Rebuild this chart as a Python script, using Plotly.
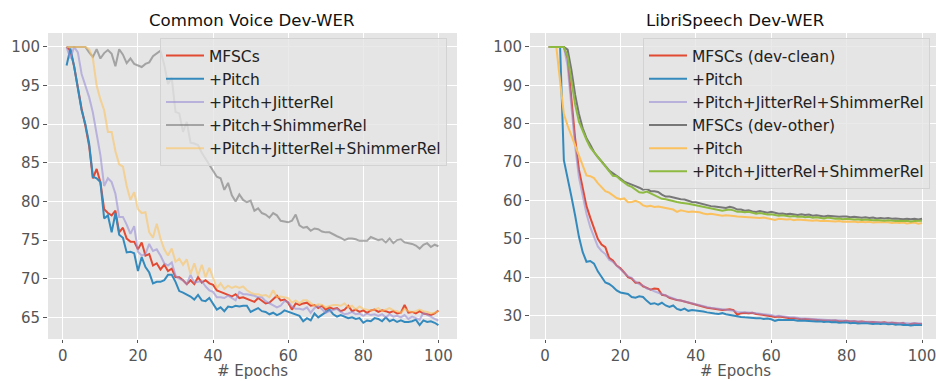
import plotly.graph_objects as go

# ---- data: word error rate per training epoch ----
epochs = list(range(1, 101))

cv_mfsc = [100, 99.5, 97.5, 94.5, 92, 89.8, 87.2, 83, 84.2, 82.5,
           79, 78.5, 78.2, 78.8, 76, 76.6, 75.2, 74.8, 74.8, 73.8,
           74.7, 73, 73.2, 71.7, 72.0, 71.2, 71.8, 71.0, 71.3, 70.2,
           70.2, 69.8, 69.3, 69.8, 69.3, 70.2, 69.5, 69.8, 69.4, 69.2,
           68.5, 68.3, 68.1, 68.0, 67.7, 68.0, 67.5, 67.6, 67.4, 67.3,
           67.0, 67.5, 67.2, 66.8, 66.9, 67.4, 67.8, 67.2, 67.3, 66.9,
           66.0, 66.8, 66.6, 66.8, 66.9, 66.5, 66.6, 66.2, 66.5, 66.0,
           66.3, 66.1, 66.2, 65.8, 66.0, 66.5, 65.8, 66.0, 65.7, 65.9,
           65.6, 65.9, 66.0, 65.7, 65.9, 65.8, 65.6, 65.8, 65.5, 65.6,
           66.6, 65.6, 65.7, 65.5, 65.8, 65.5, 65.4, 65.3, 65.5, 65.9]

cv_pitch = [97.6, 99.8, 97.5, 94.5, 91.8, 90, 87.5, 83.2, 83, 82.5,
            77.8, 78.2, 76, 78.5, 75.7, 75.3, 73.4, 73.5, 73.3, 71.0,
            72.8, 71.5, 70.8, 69.4, 69.6, 69.6, 69.8, 70.5, 70.5, 69.6,
            68.4, 68.2, 68.0, 67.7, 67.3, 67.9, 67.2, 67.1, 67.5, 66.8,
            66.0, 66.3, 65.8, 66.4, 66.3, 66.5, 66.4, 66.5, 66.5, 65.7,
            66.0, 66.2, 65.8, 65.7, 65.4, 65.6, 65.3, 65.5, 65.9, 65.7,
            65.5, 65.4, 65.2, 64.5, 64.9, 64.6, 65.5, 65.0, 65.3, 65.6,
            66.0, 65.4, 65.1, 65.3, 65.1, 64.9, 65.0, 64.8, 64.9, 64.3,
            64.6, 64.5, 64.9, 64.8, 64.5, 65.0, 64.5, 64.7, 64.4, 64.6,
            64.4, 64.4, 64.5, 64.7, 64.0, 64.6, 64.4, 64.5, 64.3, 64.0]

cv_jitter = [100, 98.5, 100, 99.3, 96.5, 95, 93.5, 91.5, 88.5, 86,
             82, 83, 82.5, 81, 78, 78, 77, 75.8, 76.8, 73.5,
             73, 73.2, 74.5, 73.6, 73.8, 73, 72, 71.7, 72.1, 70.4,
             70.0, 69.8, 69.3, 70.5, 69.5, 69.6, 69.7, 69.0, 68.5, 68.3,
             67.6, 67.6, 67.5, 67.8, 67.5, 67.2, 68.3, 68.0, 68.0, 67.9,
             67.8, 67.6, 67.6, 67.1, 66.8, 66.5, 66.3, 66.5, 67.1, 67.0,
             66.4, 66.1, 66.1, 66.0, 66.3, 65.6, 66.2, 66.5, 66.0, 65.6,
             65.8, 66.0, 66.1, 65.7, 65.4, 65.5, 65.7, 65.4, 65.5, 65.2,
             65.5, 65.3, 65.4, 65.2, 65.4, 65.0, 65.4, 65.1, 65.2, 65.0,
             65.3, 64.8, 65.1, 64.9, 64.7, 65.6, 65.3, 65.0, 64.8, 64.6]

cv_shimmer = [100, 100, 100, 100, 100, 100, 99.3, 98.7, 99.7, 98.5,
              99.2, 99.6, 99.1, 97.5, 99.7, 99.0, 97.9, 98.5, 97.8, 97.6,
              97.4, 97.8, 98.0, 98.8, 99.2, 99.5, 97.7, 95.2, 96.0, 91.6,
              91.4, 89.0, 90.3, 87.6, 87.5, 87.3, 86.3, 85.5, 84.8, 84.0,
              83.2, 83.0, 81.5, 82.4, 80.8, 80.0, 80.9, 80.2, 79.9, 80.1,
              78.8, 79.1, 78.5, 78.3, 77.9, 78.5, 78.2, 77.5, 77.4, 77.3,
              77.5, 78.3, 76.9, 76.6, 76.7, 76.2, 76.5, 76.4, 76.1, 76.0,
              76.0, 75.7, 75.5, 75.3, 75.0, 75.2, 75.2, 75.1, 74.9, 74.9,
              74.9, 75.4, 75.2, 75.0, 75.1, 74.7, 75.2, 74.6, 75.0, 75.1,
              74.7, 74.6, 74.5, 74.3, 73.9, 74.4, 74.6, 74.1, 74.4, 74.2]

cv_jitter_shimmer = [100, 100, 100, 100, 100, 100, 99.7, 98.5, 95.0, 93.2,
                     91.8, 89.0, 89.0, 86.5, 84.8, 84.5, 82.0, 80.2, 81.2, 79.0,
                     78.5, 78.6, 76.0, 75.3, 77.1, 75.2, 73.8, 73.0, 73.9, 72.2,
                     72.6, 71.8, 72.5, 70.6, 72.0, 70.4, 71.8, 70.2, 71.4, 70.0,
                     68.8, 69.4, 68.7, 69.1, 68.8, 69.0, 68.8, 69.0, 68.5, 68.2,
                     68.0, 68.0, 67.8, 67.9, 67.6, 68.5, 67.6, 67.7, 67.6, 67.5,
                     66.9, 67.2, 66.8, 67.2, 67.2, 66.8, 66.5, 66.7, 66.6, 66.3,
                     66.5, 66.6, 66.6, 66.5, 66.8, 66.3, 66.5, 66.0, 66.4, 66.1,
                     66.0, 65.9, 66.0, 66.2, 65.8, 66.0, 66.2, 65.9, 65.8, 65.6,
                     66.1, 65.8, 65.7, 65.8, 66.0, 65.8, 65.7, 65.5, 65.6, 65.8]

ls_clean_mfsc = [100, 100, 100, 100, 100, 97, 86, 76, 68, 63,
                 58.5, 55.5, 52.5, 50, 48.5, 47.8, 45, 44.3, 43, 42.3,
                 41.2, 40, 39.6, 38.5, 38.5, 37.6, 37.2, 36.7, 37.0, 36.9,
                 35.4, 35.2, 34.6, 34.2, 34.0, 33.9, 33.6, 33.4, 33.0, 32.7,
                 32.4, 32.2, 32.0, 31.9, 31.7, 31.5, 31.4, 31.5, 31.6, 31.4,
                 30.2, 30.6, 30.7, 30.6, 30.7, 30.4, 30.3, 30.1, 30.0, 29.8,
                 29.6, 29.7, 29.6, 29.4, 29.3, 29.3, 29.2, 29.0, 29.1, 29.0,
                 28.9, 28.9, 28.8, 28.7, 28.7, 28.6, 28.7, 28.5, 28.5, 28.6,
                 28.4, 28.5, 28.3, 28.4, 28.3, 28.2, 28.3, 28.2, 28.1, 28.2,
                 28.0, 28.1, 28.0, 27.9, 28.0, 27.5, 27.8, 27.9, 27.8, 27.8]

ls_clean_pitch = [100, 100, 100, 100, 70.5, 66, 61, 56, 50.5, 46.5,
                  44, 44.2, 43.5, 41.5, 40, 38.6, 38.2, 37.5, 36.5, 36.0,
                  35.8, 35.6, 34.8, 34.6, 35.0, 34.8, 33.8, 33.0, 33.2, 32.8,
                  33.3, 32.6, 32.2, 32.6, 31.7, 31.4, 31.8, 31.2, 31.4, 31.3,
                  31.1, 31.0, 30.8, 30.6, 30.5, 30.4, 30.6, 30.3, 30.1, 29.8,
                  29.7, 29.6, 29.5, 29.4, 29.4, 29.3, 29.3, 29.1, 29.2, 29.0,
                  28.6, 28.9, 28.8, 28.8, 28.7, 28.8, 28.6, 28.7, 28.6, 28.6,
                  28.5, 28.4, 28.5, 28.3, 28.4, 28.2, 28.3, 28.1, 28.2, 28.2,
                  28.0, 28.1, 27.9, 28.0, 28.0, 27.9, 27.8, 27.9, 27.8, 27.9,
                  27.7, 27.8, 27.6, 27.7, 27.5, 27.6, 27.4, 27.5, 27.5, 27.5]

ls_clean_all = [100, 100, 100, 100, 100, 95, 84, 74, 66, 61,
                56.5, 53, 50.5, 48, 46.8, 46, 44.5, 44, 43, 42,
                41, 40.2, 39.8, 38.8, 38.2, 37.8, 37.0, 36.8, 36.3, 36.0,
                35.5, 35.2, 34.8, 34.4, 34.1, 33.9, 33.7, 33.5, 33.2, 32.9,
                32.6, 32.4, 32.2, 32.0, 31.9, 31.7, 31.6, 31.4, 31.3, 31.2,
                30.9, 30.9, 30.8, 30.8, 30.7, 30.6, 30.5, 30.4, 30.2, 30.1,
                29.8, 29.9, 29.8, 29.6, 29.5, 29.5, 29.3, 29.2, 29.2, 29.1,
                29.0, 29.0, 28.9, 28.9, 28.8, 28.8, 28.8, 28.7, 28.7, 28.6,
                28.6, 28.5, 28.5, 28.4, 28.4, 28.3, 28.3, 28.3, 28.2, 28.2,
                28.2, 28.1, 28.1, 28.0, 28.1, 28.0, 27.9, 28.0, 27.9, 27.9]

ls_other_mfsc = [100, 100, 100, 100, 100, 99.3, 94, 87.5, 82.5, 78.8,
                 76.2, 74.5, 72.6, 71.3, 70, 69, 67.8, 67, 66.4, 65.7,
                 64.9, 64.5, 64.2, 63.7, 63.3, 62.8, 63.0, 62.4, 62.4, 62.2,
                 61.5, 61.0, 61.0, 60.7, 60.5, 60.3, 60.2, 59.8, 59.6, 59.5,
                 59.2, 59.0, 58.6, 58.5, 58.4, 58.3, 58.2, 58.0, 58.3, 58.1,
                 57.6, 57.6, 57.3, 57.4, 57.1, 57.0, 57.2, 57.0, 56.8, 57.0,
                 56.7, 56.5, 56.6, 56.4, 56.5, 56.3, 56.2, 56.4, 56.2, 56.3,
                 56.0, 56.1, 55.9, 55.8, 56.0, 55.9, 55.8, 55.7, 55.8, 55.8,
                 55.6, 55.7, 55.6, 55.5, 55.6, 55.4, 55.5, 55.3, 55.4, 55.3,
                 55.4, 55.2, 55.3, 55.2, 55.1, 55.2, 55.1, 55.2, 55.0, 55.2]

ls_other_pitch = [100, 100, 100, 91, 82.5, 79.5, 77, 74.5, 71.5, 69,
                  66.5, 66.3, 65.8, 64.5, 63.3, 62.4, 62.0, 61.4, 60.6, 60.3,
                  60.5, 59.5, 59.6, 59.9, 59.5, 58.7, 58.4, 58.6, 58.3, 58.4,
                  58.1, 58.0, 57.8, 57.6, 57.0, 57.4, 57.2, 57.0, 57.1, 57.0,
                  56.9, 56.6, 56.4, 56.5, 56.3, 56.2, 56.0, 56.1, 55.9, 55.9,
                  55.8, 55.7, 55.6, 55.6, 55.5, 55.5, 55.4, 55.5, 55.3, 55.2,
                  54.9, 55.2, 55.1, 55.0, 55.1, 54.8, 55.0, 54.9, 54.8, 54.8,
                  54.7, 54.8, 54.6, 54.7, 54.6, 54.5, 54.5, 54.6, 54.4, 54.5,
                  54.4, 54.5, 54.3, 54.4, 54.3, 54.4, 54.2, 54.3, 54.3, 54.2,
                  54.3, 54.1, 54.2, 54.1, 54.2, 54.0, 54.1, 54.2, 53.9, 54.1]

ls_other_all = [100, 100, 100, 100, 100, 97.5, 91, 85, 80.5, 78,
                75.8, 73.8, 72.5, 71.2, 70, 68.8, 67.6, 66.4, 66.3, 65.4,
                64.6, 63.9, 63.5, 62.9, 62.1, 62.0, 62.3, 61.8, 61.4, 61.0,
                60.4, 60.3, 60.0, 59.9, 59.6, 59.4, 59.3, 59.1, 58.9, 58.7,
                58.5, 58.2, 58.0, 57.9, 57.8, 57.6, 57.3, 57.5, 57.6, 57.4,
                57.0, 57.0, 56.9, 57.0, 56.7, 56.5, 56.7, 56.4, 56.3, 56.4,
                56.1, 56.0, 56.1, 55.9, 55.8, 55.9, 55.7, 55.8, 55.6, 55.7,
                55.5, 55.6, 55.4, 55.3, 55.5, 55.3, 55.2, 55.3, 55.1, 55.2,
                55.1, 55.0, 55.1, 54.9, 55.0, 54.9, 54.8, 54.9, 54.8, 54.7,
                54.8, 54.7, 54.6, 54.7, 54.6, 54.7, 54.5, 54.6, 54.6, 54.7]

x_ticks = [0, 20, 40, 60, 80, 100]
cv_y_ticks = [65, 70, 75, 80, 85, 90, 95, 100]
ls_y_ticks = [30, 40, 50, 60, 70, 80, 90, 100]

# ggplot-style palette
RED = "#E24A33"
BLUE = "#348ABD"
PURPLE = "rgba(152,142,213,0.6)"
GRAY_LIGHT = "rgba(119,119,119,0.6)"
YELLOW_LIGHT = "rgba(251,193,94,0.6)"
GRAY = "#777777"
YELLOW = "#FBC15E"
GREEN = "#8EBA42"

W, H = 936, 381
FONT = "DejaVu Sans"

fig = go.Figure()

left_series = [
    ("MFSCs", cv_mfsc, RED),
    ("+Pitch", cv_pitch, BLUE),
    ("+Pitch+JitterRel", cv_jitter, PURPLE),
    ("+Pitch+ShimmerRel", cv_shimmer, GRAY_LIGHT),
    ("+Pitch+JitterRel+ShimmerRel", cv_jitter_shimmer, YELLOW_LIGHT),
]
for name, vals, col in left_series:
    fig.add_trace(go.Scatter(x=epochs, y=vals, name=name, mode="lines",
                             line=dict(color=col, width=2),
                             xaxis="x", yaxis="y", legend="legend"))

right_series = [
    ("MFSCs (dev-clean)", ls_clean_mfsc, RED),
    ("+Pitch", ls_clean_pitch, BLUE),
    ("+Pitch+JitterRel+ShimmerRel", ls_clean_all, PURPLE),
    ("MFSCs (dev-other)", ls_other_mfsc, GRAY),
    ("+Pitch", ls_other_pitch, YELLOW),
    ("+Pitch+JitterRel+ShimmerRel", ls_other_all, GREEN),
]
for name, vals, col in right_series:
    fig.add_trace(go.Scatter(x=epochs, y=vals, name=name, mode="lines",
                             line=dict(color=col, width=2),
                             xaxis="x2", yaxis="y2", legend="legend2"))

# plot area in pixels
top, bottom = 33, 339
plot_h = bottom - top
def px_x(p):
    return p / W
def px_y(p):
    return (bottom - p) / plot_h

axis_common = dict(
    showgrid=True, gridcolor="white", gridwidth=1.2,
    zeroline=False, showline=False,
    ticks="outside", tickwidth=1, tickcolor="#555555",
    tickfont=dict(family=FONT, size=15, color="#555555"),
    ticklabeloverflow="allow",
)

legend_common = dict(
    xanchor="left", yanchor="top",
    bgcolor="rgba(229,229,229,0.8)", bordercolor="#D3D3D3", borderwidth=1,
    font=dict(family=FONT, size=15.5, color="#222222"),
    tracegroupgap=0, itemwidth=38,
)

fig.update_layout(
    width=W, height=H,
    margin=dict(l=0, r=0, t=top, b=H - bottom),
    paper_bgcolor="white", plot_bgcolor="#E5E5E5",
    showlegend=True,
    xaxis=dict(domain=[px_x(48), px_x(457)], range=[-3.95, 104.95],
               tickvals=x_ticks, anchor="y", ticklen=3, **axis_common),
    yaxis=dict(domain=[0, 1], range=[62.2, 101.8], tickvals=cv_y_ticks,
               anchor="x", ticklen=4, **axis_common),
    xaxis2=dict(domain=[px_x(530), 1.0], range=[-3.98, 103.7],
                tickvals=x_ticks, anchor="y2", ticklen=3, **axis_common),
    yaxis2=dict(domain=[0, 1], range=[23.86, 103.63], tickvals=ls_y_ticks,
                anchor="x2", ticklen=4, **axis_common),
    legend=dict(x=px_x(160), y=px_y(38), **legend_common),
    legend2=dict(x=px_x(643), y=px_y(38), **legend_common),
    annotations=[
        dict(text="Common Voice Dev-WER", x=px_x(252), y=px_y(21),
             xref="paper", yref="paper", showarrow=False,
             xanchor="center", yanchor="middle",
             font=dict(family=FONT, size=16.6, color="#111111")),
        dict(text="LibriSpeech Dev-WER", x=px_x(735), y=px_y(21),
             xref="paper", yref="paper", showarrow=False,
             xanchor="center", yanchor="middle",
             font=dict(family=FONT, size=16.6, color="#111111")),
        dict(text="# Epochs", x=px_x(252), y=px_y(381),
             xref="paper", yref="paper", showarrow=False,
             xanchor="center", yanchor="bottom", borderpad=0,
             font=dict(family=FONT, size=15, color="#555555")),
        dict(text="# Epochs", x=px_x(735), y=px_y(381),
             xref="paper", yref="paper", showarrow=False,
             xanchor="center", yanchor="bottom", borderpad=0,
             font=dict(family=FONT, size=15, color="#555555")),
    ],
)

fig.write_html("out.html")
